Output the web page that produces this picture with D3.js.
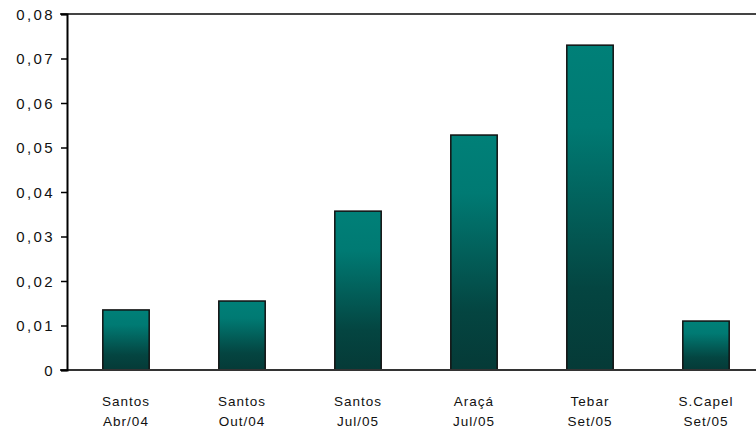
<!DOCTYPE html>
<html>
<head>
<meta charset="utf-8">
<script src="https://cdn.jsdelivr.net/npm/d3@7"></script>
<style>
  html, body { margin: 0; padding: 0; background: #fff; }
  svg { display: block; }
  .tick-label { font-family: "Liberation Sans", Arial, sans-serif; font-size: 15px; letter-spacing: 2.4px; fill: #111; }
  .cat-label { font-family: "Liberation Sans", Arial, sans-serif; font-size: 13.5px; letter-spacing: 1px; fill: #111; }
</style>
</head>
<body>
<svg id="chart" width="756" height="432"></svg>
<script>
// Categories (terminal / campaign) and measured values
const categories = [
  ["Santos", "Abr/04"],
  ["Santos", "Out/04"],
  ["Santos", "Jul/05"],
  ["Araçá", "Jul/05"],
  ["Tebar", "Set/05"],
  ["S.Capel", "Set/05"]
];
const values = [0.0135, 0.0155, 0.0357, 0.0528, 0.073, 0.011];
const yTicks = [0, 0.01, 0.02, 0.03, 0.04, 0.05, 0.06, 0.07, 0.08];
const yTickLabels = ["0", "0,01", "0,02", "0,03", "0,04", "0,05", "0,06", "0,07", "0,08"];

const svg = d3.select("#chart");
const W = 756;
const plot = { left: 67, top: 14, bottom: 370, right: 764 };

const keys = categories.map(c => c.join(" "));
const x = d3.scaleBand()
  .domain(keys)
  .range([plot.left + 1, plot.right])
  .paddingInner(0.6)
  .paddingOuter(0.3);

const y = d3.scaleLinear()
  .domain([0, 0.08])
  .range([plot.bottom, plot.top]);

// Bar fill: teal at the top, darkening to deep green toward the base
const grad = svg.append("defs").append("linearGradient")
  .attr("id", "barFill")
  .attr("x1", 0).attr("y1", 0).attr("x2", 0).attr("y2", 1);
grad.append("stop").attr("offset", "0").attr("stop-color", "#008078");
grad.append("stop").attr("offset", "0.25").attr("stop-color", "#007a73");
grad.append("stop").attr("offset", "0.75").attr("stop-color", "#044541");
grad.append("stop").attr("offset", "1").attr("stop-color", "#053a37");

// Top frame line
svg.append("line")
  .attr("x1", plot.left - 7).attr("x2", W)
  .attr("y1", y(0.08)).attr("y2", y(0.08))
  .attr("stroke", "#444").attr("stroke-width", 2);

// Bars
svg.append("g").selectAll("rect")
  .data(values)
  .join("rect")
  .attr("x", (d, i) => x(keys[i]))
  .attr("width", x.bandwidth())
  .attr("y", d => y(d))
  .attr("height", d => y(0) - y(d))
  .attr("fill", "url(#barFill)")
  .attr("stroke", "#111")
  .attr("stroke-width", 1.5);

// Baseline
svg.append("line")
  .attr("x1", plot.left - 7).attr("x2", W)
  .attr("y1", y(0)).attr("y2", y(0))
  .attr("stroke", "#333").attr("stroke-width", 2);

// Y axis
const yAxis = d3.axisLeft(y)
  .tickValues(yTicks)
  .tickSize(6)
  .tickPadding(6)
  .tickFormat((d, i) => yTickLabels[i]);

const gy = svg.append("g")
  .attr("transform", `translate(${plot.left},0)`)
  .call(yAxis);
gy.select(".domain").attr("stroke", "#000").attr("stroke-width", 2);
gy.selectAll(".tick line").attr("stroke", "#000").attr("stroke-width", 1.5);
gy.selectAll(".tick text")
  .attr("class", "tick-label")
  .attr("font-family", null)
  .attr("font-size", null)
  .attr("fill", null)
  .attr("dy", "0.35em");

// Category labels, two lines each
const labels = svg.append("g").selectAll("text")
  .data(categories)
  .join("text")
  .attr("class", "cat-label")
  .attr("text-anchor", "middle")
  .attr("x", (d, i) => x(keys[i]) + x.bandwidth() / 2)
  .attr("y", 406);
labels.selectAll("tspan")
  .data(d => d)
  .join("tspan")
  .attr("x", function () { return this.parentNode.getAttribute("x"); })
  .attr("dy", (d, j) => j === 0 ? 0 : 20)
  .text(d => d);
</script>
</body>
</html>
